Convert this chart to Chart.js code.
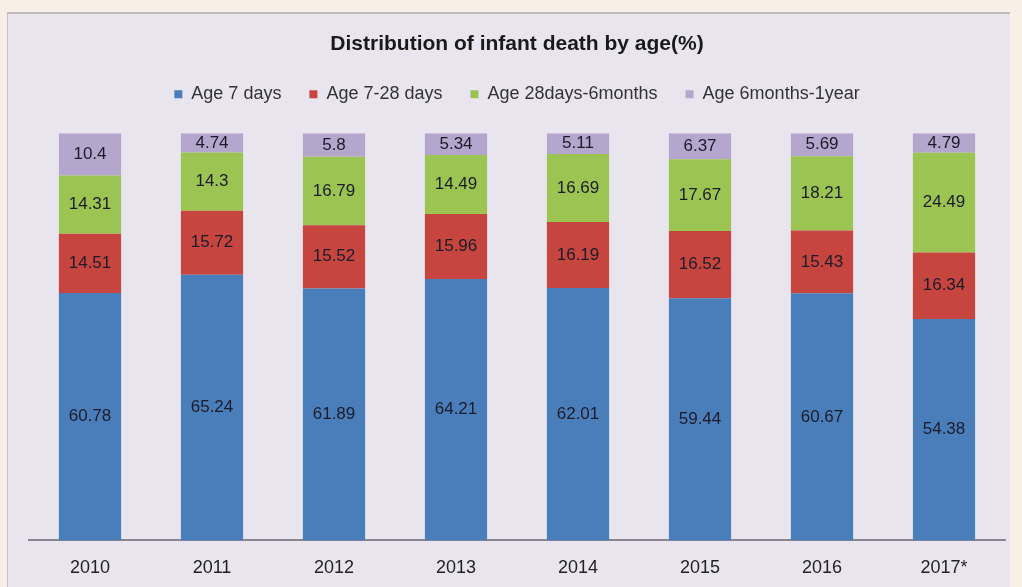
<!DOCTYPE html>
<html>
<head>
<meta charset="utf-8">
<script src="https://cdn.jsdelivr.net/npm/chart.js@4.4.0/dist/chart.umd.min.js"></script>
<style>
  html, body { margin:0; padding:0; }
  body { width:1022px; height:587px; background:#f8f0e6; position:relative; overflow:hidden; }
  #panel { position:absolute; left:7px; top:12px; width:1003px; height:575px; background:#e9e5ef;
           border-top:2px solid #c3bac2; border-left:1px solid #c8c0c8; box-sizing:border-box; }
  #c { position:absolute; left:0; top:0; }
</style>
</head>
<body>
<div id="panel"></div>
<canvas id="c" width="1022" height="587"></canvas>
<script>
const categories = ['2010','2011','2012','2013','2014','2015','2016','2017*'];
const age7days   = [60.78, 65.24, 61.89, 64.21, 62.01, 59.44, 60.67, 54.38];
const age7to28   = [14.51, 15.72, 15.52, 15.96, 16.19, 16.52, 15.43, 16.34];
const age28to6m  = [14.31, 14.3, 16.79, 14.49, 16.69, 17.67, 18.21, 24.49];
const age6mto1y  = [10.4, 4.74, 5.8, 5.34, 5.11, 6.37, 5.69, 4.79];
const seriesNames = ['Age 7 days','Age 7-28 days','Age 28days-6months','Age 6months-1year'];

const FONT = "'Liberation Sans', Arial, sans-serif";

const valueLabels = {
  id: 'valueLabels',
  afterDatasetsDraw(chart) {
    const ctx = chart.ctx;
    ctx.save();
    ctx.font = '17px ' + FONT;
    ctx.fillStyle = '#1b1b2a';
    ctx.textAlign = 'center';
    ctx.textBaseline = 'middle';
    chart.data.datasets.forEach((ds, i) => {
      const meta = chart.getDatasetMeta(i);
      meta.data.forEach((el, j) => {
        const y = (el.y + el.base) / 2;
        ctx.fillText(String(ds.data[j]), el.x, y);
      });
    });
    ctx.restore();
  }
};

const legendSpace = {
  id: 'legendSpace',
  beforeInit(chart) {
    const orig = chart.legend.fit;
    chart.legend.fit = function() {
      orig.call(this);
      this.height += 20;
    };
  }
};

new Chart(document.getElementById('c'), {
  type: 'bar',
  data: {
    labels: categories,
    datasets: [
      { label: seriesNames[0], data: age7days,  backgroundColor: '#4a7ebb' },
      { label: seriesNames[1], data: age7to28,  backgroundColor: '#c6463f' },
      { label: seriesNames[2], data: age28to6m, backgroundColor: '#9cc452' },
      { label: seriesNames[3], data: age6mto1y, backgroundColor: '#b4a6cc' }
    ]
  },
  options: {
    responsive: false,
    animation: false,
    devicePixelRatio: 1,
    layout: { padding: { left: 29, right: 17, top: 32, bottom: -9 } },
    datasets: { bar: { categoryPercentage: 1, barPercentage: 0.51, borderWidth: 0 } },
    plugins: {
      title: {
        display: true,
        text: 'Distribution of infant death by age(%)',
        font: { family: FONT, size: 21, weight: 'bold' },
        color: '#1a1a1a',
        padding: { top: 0, bottom: 0 }
      },
      legend: {
        display: true,
        position: 'top',
        labels: {
          boxWidth: 8, boxHeight: 8, padding: 28,
          font: { family: FONT, size: 18 },
          color: '#333333'
        }
      },
      tooltip: { enabled: false }
    },
    scales: {
      x: {
        stacked: true,
        grid: { display: false, drawTicks: false },
        border: { display: true, color: '#8a8590', width: 2 },
        ticks: { padding: 17, color: '#222222', font: { family: FONT, size: 18 } }
      },
      y: {
        stacked: true,
        display: false,
        min: 0,
        max: 100
      }
    }
  },
  plugins: [valueLabels, legendSpace]
});
</script>
</body>
</html>
